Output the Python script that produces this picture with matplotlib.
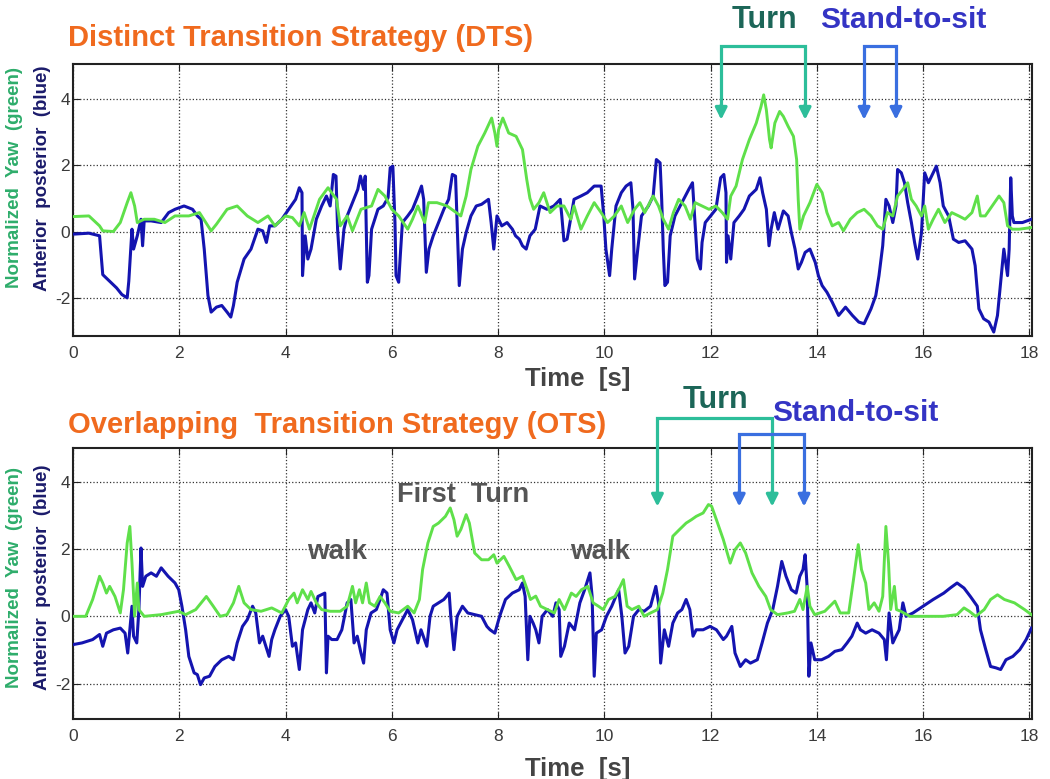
import numpy as np
import matplotlib
matplotlib.use("Agg")
import matplotlib.pyplot as plt

plt.rcParams['font.family'] = ['Liberation Sans', 'DejaVu Sans']
plt.rcParams['axes.unicode_minus'] = False

# Distinct Transition Strategy (DTS) - anterior posterior (blue), (time s, value)
dts_ap = [(0, -0.08), (0.3, -0.05), (0.5, -0.13), (0.56, -1.3), (0.69, -1.5), (0.82, -1.7), (0.92, -1.9),
          (1.02, -2.0), (1.05, -1.5), (1.08, -0.7), (1.11, 0.07), (1.14, -0.53), (1.21, -0.13), (1.28, 0.37),
          (1.31, -0.43), (1.34, 0.32), (1.47, 0.32), (1.66, 0.27), (1.8, 0.57), (1.92, 0.67), (2.09, 0.77),
          (2.25, 0.67), (2.34, 0.47), (2.41, 0.37), (2.47, -0.53), (2.54, -1.93), (2.6, -2.43), (2.7, -2.28),
          (2.8, -2.23), (2.9, -2.43), (2.97, -2.58), (3.02, -2.23), (3.09, -1.53), (3.22, -0.83), (3.35, -0.53),
          (3.48, 0.07), (3.57, 0.02), (3.64, -0.33), (3.7, 0.17), (3.8, 0.17), (3.93, 0.37), (4.06, 0.67),
          (4.19, 0.97), (4.26, 1.32), (4.31, 1.17), (4.32, -1.33), (4.37, -0.13), (4.42, -0.83), (4.48, -0.53),
          (4.58, 0.37), (4.68, 0.77), (4.77, 1.07), (4.84, 0.77), (4.9, 1.72), (4.95, 1.67), (4.98, 0.07),
          (5.03, -1.13), (5.1, 0.07), (5.16, 0.47), (5.26, 0.87), (5.36, 1.27), (5.41, 1.67), (5.47, 1.27),
          (5.5, 1.67), (5.54, -1.53), (5.57, -1.33), (5.62, 0.07), (5.68, 0.37), (5.74, 0.67), (5.84, 0.77),
          (5.93, 1.02), (5.97, 1.92), (6.02, 1.97), (6.06, 0.27), (6.08, -1.33), (6.13, -1.53), (6.16, -0.73),
          (6.2, 0.27), (6.3, 0.47), (6.39, 0.67), (6.49, 1.07), (6.56, 1.37), (6.6, 0.97), (6.65, -1.23),
          (6.7, -0.53), (6.78, -0.13), (6.88, 0.27), (6.98, 0.67), (7.07, 0.97), (7.14, 1.72), (7.2, 1.67),
          (7.23, 0.27), (7.27, -1.63), (7.33, -0.53), (7.4, -0.03), (7.49, 0.47), (7.59, 0.77), (7.69, 0.82),
          (7.82, 0.97), (7.87, 0.27), (7.92, -0.53), (7.98, 0.47), (8.07, 0.17), (8.17, 0.27), (8.27, 0.07),
          (8.33, -0.13), (8.4, -0.23), (8.46, -0.43), (8.53, -0.53), (8.6, -0.13), (8.7, 0.07), (8.79, 0.77),
          (8.92, 0.67), (9.05, 0.77), (9.17, 0.97), (9.2, 0.47), (9.24, -0.28), (9.3, -0.23), (9.43, 0.97),
          (9.56, 1.07), (9.68, 1.17), (9.81, 1.37), (9.94, 1.37), (9.99, 0.47), (10.03, -0.53), (10.1, -1.33),
          (10.14, -0.53), (10.22, 0.77), (10.32, 1.17), (10.41, 1.37), (10.5, 1.47), (10.54, 0.67), (10.57, -1.43),
          (10.63, -0.53), (10.7, 0.47), (10.83, 0.77), (10.92, 1.07), (10.98, 2.17), (11.05, 2.07), (11.08, 0.97),
          (11.11, -0.53), (11.14, -1.63), (11.19, -1.53), (11.24, -0.13), (11.33, 0.47), (11.46, 0.87),
          (11.59, 1.27), (11.66, 1.47), (11.7, 0.47), (11.75, -0.83), (11.81, -1.13), (11.84, -0.33), (11.9, 0.27),
          (12.0, 0.47), (12.1, 0.67), (12.19, 1.62), (12.25, 1.72), (12.29, 1.17), (12.3, -0.93), (12.33, -0.13),
          (12.38, -0.83), (12.44, 0.27), (12.54, 0.47), (12.63, 0.67), (12.73, 1.07), (12.86, 1.27), (12.93, 1.62),
          (12.98, 1.17), (13.05, 0.67), (13.1, -0.43), (13.14, 0.07), (13.2, 0.57), (13.27, 0.07), (13.37, 0.62),
          (13.46, 0.47), (13.52, -0.03), (13.59, -0.53), (13.65, -1.13), (13.71, -0.93), (13.78, -0.63),
          (13.87, -0.53), (13.97, -0.93), (14.03, -1.33), (14.1, -1.63), (14.19, -1.83), (14.29, -2.13),
          (14.41, -2.53), (14.54, -2.28), (14.67, -2.53), (14.79, -2.73), (14.89, -2.78), (15.02, -2.33),
          (15.11, -1.93), (15.17, -1.33), (15.24, -0.43), (15.3, 0.97), (15.36, 0.77), (15.43, 0.27), (15.49, 0.77),
          (15.52, 1.87), (15.59, 1.77), (15.65, 1.47), (15.71, 0.87), (15.78, 0.27), (15.84, -0.33), (15.9, -0.83),
          (15.97, -0.03), (16.03, 1.77), (16.1, 1.47), (16.16, 1.67), (16.25, 1.97), (16.32, 1.47), (16.38, 0.77),
          (16.48, 0.47), (16.57, -0.23), (16.67, -0.33), (16.79, -0.28), (16.92, -0.53), (16.98, -1.03),
          (17.05, -2.33), (17.14, -2.63), (17.24, -2.73), (17.33, -3.03), (17.4, -2.53), (17.46, -1.53),
          (17.52, -0.53), (17.59, -1.33), (17.62, -0.53), (17.65, 1.62), (17.68, 0.47), (17.71, 0.27),
          (17.87, 0.27), (18.04, 0.37)]

# DTS - normalized yaw (green)
dts_yaw = [(0, 0.45), (0.3, 0.47), (0.5, 0.17), (0.56, 0.02), (0.76, 0.0), (0.89, 0.27), (1.02, 0.87),
           (1.09, 1.17), (1.16, 0.77), (1.21, 0.27), (1.34, 0.37), (1.53, 0.37), (1.73, 0.27), (1.92, 0.47),
           (2.18, 0.47), (2.38, 0.57), (2.5, 0.27), (2.6, 0.02), (2.7, 0.22), (2.9, 0.67), (3.09, 0.77),
           (3.28, 0.47), (3.48, 0.27), (3.67, 0.47), (3.8, 0.17), (4.0, 0.47), (4.13, 0.42), (4.26, 0.17),
           (4.35, 0.57), (4.45, 0.07), (4.64, 0.97), (4.8, 1.32), (4.96, 0.97), (5.03, 0.17), (5.16, 0.47),
           (5.26, 0.02), (5.42, 0.67), (5.62, 0.77), (5.74, 1.27), (5.87, 1.07), (6.0, 0.67), (6.13, 0.47),
           (6.3, 0.07), (6.39, 0.37), (6.49, 0.77), (6.62, 0.27), (6.69, 0.87), (6.85, 0.87), (7.04, 0.77),
           (7.3, 0.47), (7.4, 1.07), (7.49, 1.87), (7.62, 2.57), (7.75, 2.97), (7.88, 3.42), (7.94, 2.97),
           (7.98, 2.57), (8.01, 3.07), (8.09, 3.42), (8.2, 2.97), (8.34, 2.87), (8.46, 2.47), (8.54, 1.57),
           (8.6, 1.0), (8.67, 0.67), (8.77, 0.87), (8.86, 1.17), (8.98, 0.57), (9.11, 0.77), (9.24, 0.77),
           (9.37, 0.37), (9.43, 0.77), (9.56, 0.07), (9.68, 0.47), (9.81, 0.87), (9.94, 0.57), (10.06, 0.27),
           (10.19, 0.47), (10.32, 0.77), (10.44, 0.27), (10.57, 0.67), (10.67, 0.87), (10.76, 0.57), (10.92, 1.07),
           (11.02, 0.77), (11.11, 0.37), (11.21, 0.07), (11.3, 0.57), (11.4, 0.97), (11.52, 0.77), (11.62, 0.37),
           (11.71, 0.87), (11.84, 0.77), (11.97, 0.67), (12.1, 0.77), (12.22, 0.57), (12.32, 0.37), (12.38, 1.07),
           (12.48, 1.37), (12.6, 2.17), (12.73, 2.77), (12.86, 3.27), (12.95, 3.77), (13.0, 4.12), (13.05, 3.67),
           (13.11, 2.77), (13.14, 2.52), (13.21, 3.27), (13.3, 3.62), (13.37, 3.47), (13.46, 3.17), (13.56, 2.87),
           (13.62, 2.17), (13.65, 0.97), (13.68, 0.07), (13.75, 0.47), (13.87, 0.87), (14.0, 1.42), (14.1, 1.17),
           (14.19, 0.57), (14.29, 0.17), (14.41, 0.27), (14.5, 0.02), (14.63, 0.37), (14.76, 0.57), (14.89, 0.67),
           (15.02, 0.47), (15.14, 0.17), (15.24, 0.07), (15.33, 0.57), (15.43, 0.47), (15.52, 1.07), (15.62, 1.27),
           (15.71, 1.47), (15.78, 0.97), (15.87, 0.77), (15.97, 0.47), (16.03, 0.77), (16.1, 0.07), (16.19, 0.37),
           (16.29, 0.67), (16.41, 0.27), (16.54, 0.57), (16.67, 0.47), (16.79, 0.37), (16.92, 0.57), (17.02, 1.07),
           (17.08, 0.47), (17.17, 0.47), (17.3, 0.77), (17.43, 1.07), (17.52, 0.87), (17.59, 0.17), (17.68, 0.07),
           (17.81, 0.07), (18.04, 0.12)]

# Overlapping Transition Strategy (OTS) - anterior posterior (blue)
ots_ap = [(0, -0.84), (0.17, -0.79), (0.37, -0.69), (0.5, -0.54), (0.56, -0.89), (0.63, -0.5), (0.76, -0.4),
          (0.89, -0.35), (0.98, -0.5), (1.03, -1.09), (1.07, -0.4), (1.11, 0.3), (1.14, -0.59), (1.2, -0.79),
          (1.24, 0.2), (1.28, 2.03), (1.31, 0.89), (1.37, 1.19), (1.47, 1.29), (1.57, 1.19), (1.66, 1.44),
          (1.79, 1.19), (1.92, 0.99), (1.99, 0.79), (2.05, 0.3), (2.12, -0.4), (2.18, -1.19), (2.28, -1.68),
          (2.34, -1.73), (2.4, -2.03), (2.47, -1.83), (2.57, -1.78), (2.67, -1.49), (2.8, -1.29), (2.93, -1.19),
          (3.02, -1.29), (3.09, -0.79), (3.19, -0.3), (3.28, -0.1), (3.38, 0.3), (3.44, 0.1), (3.51, -0.79),
          (3.57, -0.59), (3.69, -1.19), (3.74, -0.69), (3.8, -0.4), (3.9, 0.0), (4.0, 0.2), (4.06, 0.0),
          (4.13, -0.89), (4.19, -0.79), (4.26, -1.58), (4.32, -0.4), (4.42, 0.2), (4.48, 0.4), (4.55, 0.1),
          (4.61, 0.59), (4.74, 0.69), (4.77, -1.68), (4.8, -0.59), (4.87, -0.69), (4.97, -0.69), (5.06, -0.4),
          (5.16, 0.4), (5.23, 0.5), (5.29, -0.79), (5.35, -0.59), (5.42, -1.09), (5.47, -1.39), (5.52, -0.4),
          (5.61, 0.1), (5.71, 0.2), (5.78, 0.5), (5.84, 0.79), (5.91, 0.69), (5.97, -0.4), (6.04, -0.79),
          (6.1, -0.4), (6.2, -0.1), (6.3, 0.2), (6.39, -0.1), (6.49, -0.79), (6.55, -0.4), (6.66, -0.89),
          (6.72, 0.0), (6.78, 0.3), (6.88, 0.4), (6.98, 0.5), (7.08, 0.69), (7.11, 0.0), (7.17, -0.99),
          (7.23, 0.0), (7.33, 0.3), (7.43, 0.1), (7.56, 0.05), (7.69, 0.0), (7.79, -0.3), (7.85, -0.4),
          (7.94, -0.5), (8.03, 0.0), (8.14, 0.5), (8.27, 0.69), (8.4, 0.79), (8.46, 0.99), (8.51, 0.59),
          (8.56, -1.29), (8.6, 0.0), (8.66, -0.2), (8.71, -0.4), (8.77, -0.79), (8.83, 0.0), (8.93, 0.2),
          (9.03, 0.0), (9.09, 0.4), (9.15, 0.2), (9.18, -1.19), (9.25, -0.89), (9.34, -0.2), (9.44, -0.4),
          (9.54, 0.4), (9.63, 0.79), (9.73, 1.29), (9.77, 0.6), (9.81, -1.78), (9.85, -0.5), (9.95, -0.4),
          (10.04, 0.0), (10.14, 0.3), (10.27, 0.79), (10.33, 0.0), (10.39, -1.09), (10.46, -0.89), (10.55, 0.0),
          (10.65, 0.2), (10.75, 0.15), (10.87, 0.3), (10.97, 0.89), (11.02, 0.4), (11.06, -1.39), (11.13, -0.4),
          (11.21, -0.89), (11.29, -0.2), (11.38, 0.1), (11.46, 0.2), (11.54, 0.5), (11.61, 0.2), (11.67, -0.59),
          (11.73, -0.4), (11.86, -0.4), (11.99, -0.3), (12.11, -0.4), (12.24, -0.69), (12.3, -0.59), (12.4, -0.3),
          (12.46, -1.09), (12.56, -1.49), (12.66, -1.29), (12.75, -1.39), (12.88, -1.29), (12.97, -0.79),
          (13.07, -0.2), (13.17, 0.2), (13.26, 0.89), (13.34, 1.63), (13.42, 1.19), (13.52, 0.79), (13.61, 0.69),
          (13.68, 1.19), (13.74, 1.39), (13.78, 1.83), (13.82, 0.8), (13.85, -1.78), (13.89, -0.79),
          (13.96, -1.29), (14.09, -1.29), (14.22, -1.19), (14.34, -1.04), (14.47, -0.99), (14.57, -0.79),
          (14.66, -0.59), (14.76, -0.2), (14.82, -0.4), (14.92, -0.5), (15.04, -0.4), (15.17, -0.5),
          (15.27, -0.69), (15.31, -1.29), (15.36, 0.1), (15.43, -0.79), (15.49, -0.59), (15.55, -0.4),
          (15.62, 0.4), (15.68, 0.0), (15.81, 0.1), (16.0, 0.3), (16.19, 0.5), (16.39, 0.69), (16.51, 0.84),
          (16.64, 0.99), (16.77, 0.84), (16.89, 0.59), (17.02, 0.3), (17.08, -0.4), (17.18, -0.99),
          (17.27, -1.49), (17.37, -1.53), (17.46, -1.58), (17.56, -1.29), (17.69, -1.19), (17.82, -0.99),
          (17.94, -0.69), (18.04, -0.35)]

# OTS - normalized yaw (green)
ots_yaw = [(0, 0.0), (0.24, 0.0), (0.37, 0.5), (0.5, 1.19), (0.56, 0.99), (0.63, 0.69), (0.69, 0.89),
           (0.79, 0.59), (0.89, 0.1), (0.95, 0.79), (1.02, 2.18), (1.07, 2.67), (1.11, 1.58), (1.16, 0.0),
           (1.21, 0.99), (1.24, 0.2), (1.34, 0.0), (1.66, 0.05), (1.99, 0.15), (2.12, 0.05), (2.31, 0.2),
           (2.51, 0.59), (2.64, 0.3), (2.77, 0.0), (2.9, 0.05), (3.02, 0.4), (3.12, 0.89), (3.22, 0.4),
           (3.35, 0.2), (3.54, 0.15), (3.74, 0.25), (3.93, 0.1), (4.06, 0.5), (4.16, 0.69), (4.22, 0.4),
           (4.32, 0.79), (4.42, 0.5), (4.48, 0.74), (4.58, 0.4), (4.68, 0.2), (4.84, 0.15), (5.03, 0.15),
           (5.16, 0.3), (5.26, 0.89), (5.32, 0.4), (5.39, 0.79), (5.45, 0.4), (5.52, 0.99), (5.58, 0.4),
           (5.68, 0.3), (5.78, 0.59), (5.87, 0.4), (5.97, 0.15), (6.13, 0.1), (6.3, 0.3), (6.42, 0.1),
           (6.52, 0.5), (6.58, 1.39), (6.68, 2.18), (6.78, 2.67), (6.88, 2.77), (7.01, 2.97), (7.1, 3.22),
           (7.17, 2.87), (7.23, 2.38), (7.3, 2.58), (7.4, 3.02), (7.46, 2.77), (7.56, 1.88), (7.69, 1.68),
           (7.82, 1.68), (7.92, 1.83), (7.98, 1.58), (8.11, 1.78), (8.21, 1.49), (8.34, 1.09), (8.46, 1.19),
           (8.55, 0.79), (8.61, 0.5), (8.71, 0.6), (8.8, 0.3), (8.93, 0.2), (9.06, 0.1), (9.15, 0.5), (9.25, 0.2),
           (9.38, 0.69), (9.47, 0.59), (9.57, 0.79), (9.69, 0.89), (9.79, 0.4), (9.89, 0.3), (9.98, 0.2),
           (10.08, 0.5), (10.2, 0.59), (10.3, 0.89), (10.36, 1.09), (10.43, 0.3), (10.52, 0.2), (10.65, 0.3),
           (10.75, 0.0), (10.87, 0.1), (11.0, 0.2), (11.1, 0.69), (11.19, 1.39), (11.29, 2.38), (11.41, 2.57),
           (11.54, 2.77), (11.64, 2.87), (11.73, 2.97), (11.86, 3.07), (11.96, 3.32), (12.02, 3.27),
           (12.11, 2.87), (12.24, 2.28), (12.37, 1.58), (12.46, 1.98), (12.56, 2.18), (12.66, 1.88),
           (12.78, 1.29), (12.91, 0.89), (13.04, 0.59), (13.13, 0.2), (13.26, 0.05), (13.45, 0.1), (13.58, 0.15),
           (13.68, 0.5), (13.74, 0.2), (13.82, 0.89), (13.87, 0.3), (13.96, 0.05), (14.15, 0.15), (14.34, 0.45),
           (14.44, 0.1), (14.6, 0.1), (14.69, 1.09), (14.78, 2.13), (14.84, 1.39), (14.92, 0.99), (14.98, 0.2),
           (15.08, 0.4), (15.17, 0.15), (15.24, 0.59), (15.3, 2.67), (15.35, 1.58), (15.39, 0.2), (15.46, 0.89),
           (15.5, 0.2), (15.58, 0.15), (15.75, 0.0), (16.06, 0.0), (16.38, 0.0), (16.64, 0.05), (16.77, 0.25),
           (16.87, 0.15), (16.99, 0.0), (17.15, 0.2), (17.27, 0.5), (17.4, 0.64), (17.53, 0.5), (17.72, 0.4),
           (17.91, 0.2), (18.04, 0.05)]

x_ticks = [0, 2, 4, 6, 8, 10, 12, 14, 16, 18]
y_ticks = [-2, 0, 2, 4]

BLUE = '#1414B0'
GREEN = '#5FE04A'
ORANGE = '#F06A1E'
TEAL = '#2DBE9A'
TEAL_TXT = '#1C6658'
BRK_BLUE = '#3A6FE0'
STS_TXT = '#3434C4'
GRAY = '#3a3a3a'

W, H = 1050, 779
fig = plt.figure(figsize=(W / 100, H / 100), dpi=100)


def px(x, y):
    return x / W, 1 - y / H


def setup(ax, ylim):
    ax.set_xlim(0, 18.05)
    ax.set_ylim(*ylim)
    ax.set_xticks(x_ticks)
    ax.set_yticks(y_ticks)
    ax.grid(True, linestyle=':', color='#333333', linewidth=0.9)
    ax.tick_params(direction='in', length=5, top=True, right=True, colors='#222222',
                   labelcolor=GRAY, labelsize=12.5)
    ax.tick_params(axis='x', pad=7)
    ax.tick_params(axis='y', pad=2)
    for s in ax.spines.values():
        s.set_linewidth(1.5)
        s.set_color('#222222')


def draw(ax, ap, yaw):
    t, v = np.array(ap).T
    ax.plot(t, v, color=BLUE, linewidth=2.2, zorder=3)
    t, v = np.array(yaw).T
    ax.plot(t, v, color=GREEN, linewidth=2.1, zorder=4)


def bracket(ax, x0, x1, top, tip, color):
    ax.plot([x0, x0, x1, x1], [tip + 0.4, top, top, tip + 0.4], color=color, linewidth=2.3,
            clip_on=False, zorder=6, solid_joinstyle='miter')
    for x in (x0, x1):
        ax.annotate('', xy=(x, tip), xytext=(x, tip + 0.45), annotation_clip=False,
                    arrowprops=dict(arrowstyle='-|>,head_width=0.35,head_length=0.7',
                                    color=color, lw=2.3, shrinkA=0, shrinkB=0), zorder=6)


# top panel: DTS
ax1 = fig.add_axes([73 / W, 1 - 336 / H, (1032 - 73) / W, (336 - 64) / H])
setup(ax1, (-3.15, 5.05))
draw(ax1, dts_ap, dts_yaw)
bracket(ax1, 12.2, 13.78, 5.6, 3.37, TEAL)
bracket(ax1, 14.89, 15.49, 5.6, 3.37, BRK_BLUE)

# bottom panel: OTS
ax2 = fig.add_axes([73 / W, 1 - 719 / H, (1032 - 73) / W, (719 - 448) / H])
setup(ax2, (-3.05, 5.0))
draw(ax2, ots_ap, ots_yaw)
bracket(ax2, 11.0, 13.16, 5.9, 3.26, TEAL)
bracket(ax2, 12.54, 13.76, 5.43, 3.26, BRK_BLUE)

# titles and annotations
fig.text(*px(68, 38), 'Distinct Transition Strategy (DTS)', color=ORANGE, fontsize=21,
         fontweight='bold', va='center', ha='left')
fig.text(*px(68, 425), 'Overlapping  Transition Strategy (OTS)', color=ORANGE, fontsize=21,
         fontweight='bold', va='center', ha='left')
fig.text(*px(764, 20), 'Turn', color=TEAL_TXT, fontsize=22, fontweight='bold', va='center', ha='center')
fig.text(*px(903, 20), 'Stand-to-sit', color=STS_TXT, fontsize=21.5, fontweight='bold', va='center', ha='center')
fig.text(*px(715, 400), 'Turn', color=TEAL_TXT, fontsize=22, fontweight='bold', va='center', ha='center')
fig.text(*px(855, 413), 'Stand-to-sit', color=STS_TXT, fontsize=21.5, fontweight='bold', va='center', ha='center')

fig.text(*px(578, 379), 'Time  [s]', color='#444444', fontsize=18.5, fontweight='bold', va='center', ha='center')
fig.text(*px(578, 769), 'Time  [s]', color='#444444', fontsize=18.5, fontweight='bold', va='center', ha='center')

fig.text(*px(463, 495), 'First  Turn', color='#555555', fontsize=19.5, fontweight='bold', va='center', ha='center')
fig.text(*px(337, 552), 'walk', color='#555555', fontsize=20, fontweight='bold', va='center', ha='center')
fig.text(*px(600, 552), 'walk', color='#555555', fontsize=20, fontweight='bold', va='center', ha='center')

# y labels (two rotated labels per panel)
for yc in (178, 577):
    fig.text(*px(15, yc), 'Normalized  Yaw  (green)', color='#2EAD6B', fontsize=13.5, rotation=90,
             fontweight='bold', va='center', ha='center')
    fig.text(*px(43, yc), 'Anterior  posterior  (blue)', color='#1B1B6B', fontsize=13.5, rotation=90,
             fontweight='bold', va='center', ha='center')

fig.savefig('out.png', dpi=100, facecolor='white')
